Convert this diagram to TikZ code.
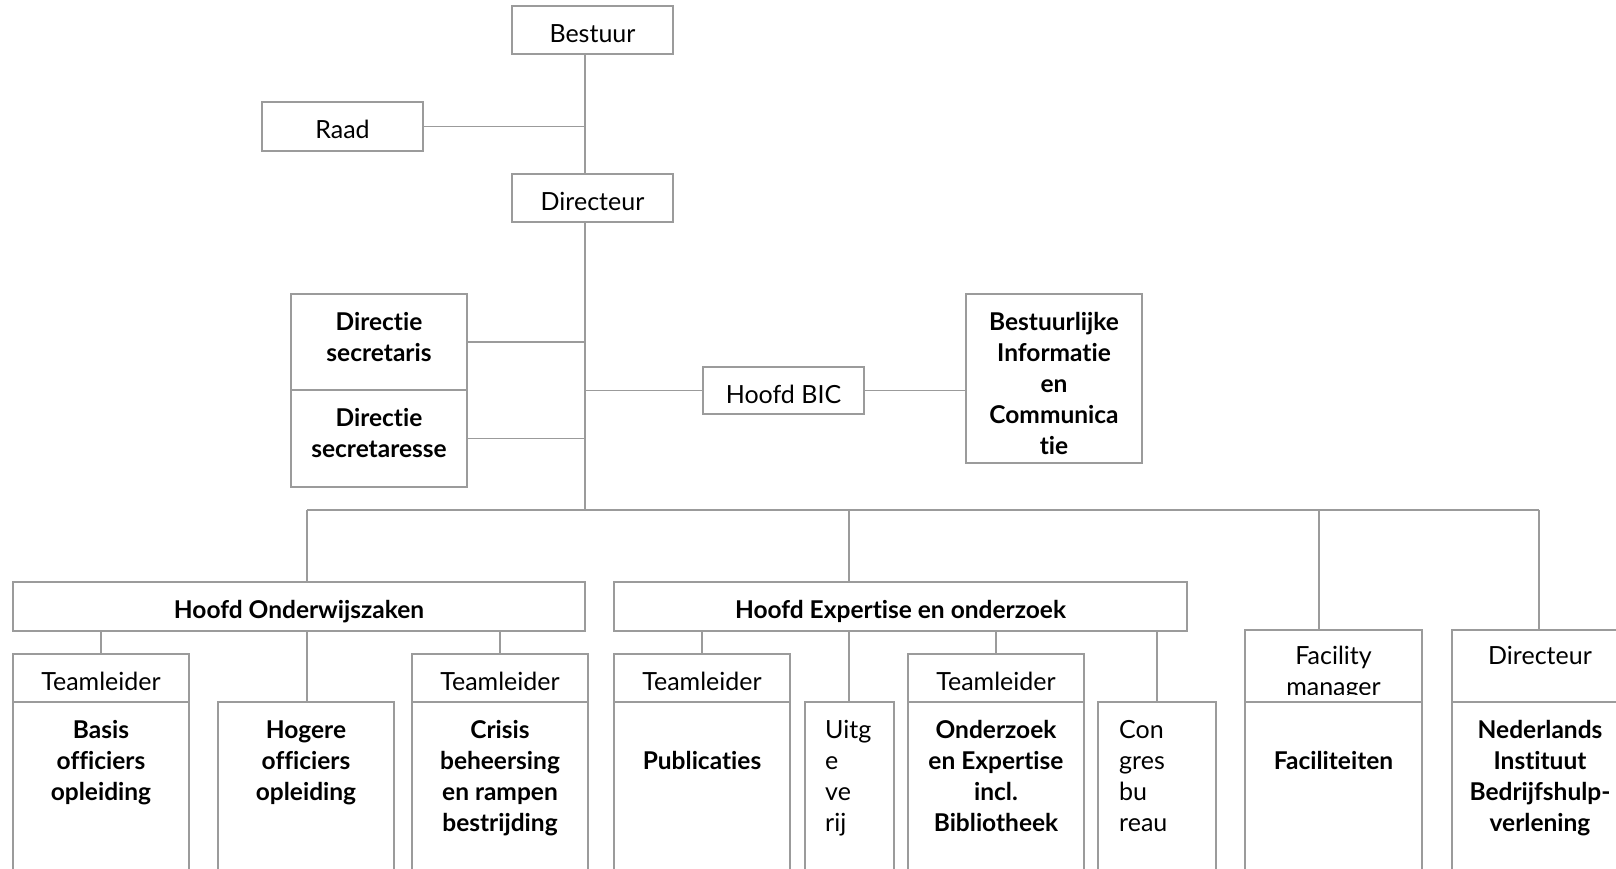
\documentclass[tikz,border=0pt]{standalone}
\usepackage{fontspec}
\setmainfont{Lato}[Ligatures={NoCommon,NoDiscretionary}]
\usetikzlibrary{fit}
\definecolor{linec}{RGB}{155,155,155}
\begin{document}
\begin{tikzpicture}[x=1pt,y=-1pt,
  box/.style={draw=linec, line width=1.4pt, fill=white, inner sep=0pt, outer sep=0pt},
  conn/.style={draw=linec, line width=1.4pt},
  reg/.style={font=\fontsize{25}{31}\selectfont, align=center, inner sep=0pt, anchor=north},
  bld/.style={font=\bfseries\fontsize{24.5}{31}\selectfont, align=center, inner sep=0pt, anchor=north},
  regl/.style={font=\fontsize{25}{31}\selectfont, align=left, inner sep=0pt, anchor=north west}
]
\useasboundingbox (0,0) rectangle (1616,869);
\clip (0,0) rectangle (1616,869);

% junction coordinates
\coordinate (sp) at (585,0);
\coordinate (jA) at (307,510);
\coordinate (jB) at (849,510);
\coordinate (jC) at (1319,510);
\coordinate (jD) at (1539,510);

% top boxes
\node[box, fit={(512,6) (673,54)}] (bestuur) {};
\node[box, fit={(262,102) (423,151)}] (raad) {};
\node[box, fit={(512,174) (673,222)}] (dir) {};
\node[box, fit={(291,294) (467,390)}] (ds1) {};
\node[box, fit={(291,390) (467,487)}] (ds2) {};
\node[box, fit={(703,367) (864,414)}] (bic) {};
\node[box, fit={(966,294) (1142,463)}] (bil) {};
\node[box, fit={(13,582) (585,631)}] (hoo) {};
\node[box, fit={(614,582) (1187,631)}] (hoe) {};

% header boxes
\node[box, fit={(13,654) (189,702)}] (tl1) {};
\node[box, fit={(412,654) (588,702)}] (tl3) {};
\node[box, fit={(614,654) (790,702)}] (tlp) {};
\node[box, fit={(908,654) (1084,702)}] (tlo) {};
\node[box, fit={(1245,630) (1422,702)}] (fach) {};
\node[box, fit={(1452,630) (1628,702)}] (dirh) {};

% connectors
\draw[conn] (bestuur.south -| sp) -- (dir.north -| sp);
\draw[conn] (raad.east) -- (raad.east -| sp);
\draw[conn] (dir.south -| sp) -- (jA -| sp);
\draw[conn] (ds1.east) -- (ds1.east -| sp);
\draw[conn] (ds2.east) -- (ds2.east -| sp);
\draw[conn] (bic.west -| sp) -- (bic.west);
\draw[conn] (bic.east) -- (bic.east -| bil.west);
\draw[conn] (jA) -- (jD);
\draw[conn] (jA) -- (hoo.north -| jA);
\draw[conn] (jB) -- (hoe.north -| jB);
\draw[conn] (jC) -- (fach.north -| jC);
\draw[conn] (jD) -- (dirh.north -| jD);

% texts
\node[reg] (bestuur-t) at ([yshift=-14.5pt]bestuur.north) {\strut Bestuur};
\node[reg] (raad-t) at ([yshift=-14.5pt]raad.north) {\strut Raad};
\node[reg] (dir-t) at ([yshift=-14.5pt]dir.north) {\strut Directeur};
\node[bld] (ds1-t) at ([yshift=-14.5pt]ds1.north) {\strut Directie\\secretaris};
\node[bld] (ds2-t) at ([yshift=-14.5pt]ds2.north) {\strut Directie\\secretaresse};
\node[reg] (bic-t) at ([yshift=-14.5pt]bic.north) {\strut Hoofd BIC};
\node[bld] (bil-t) at ([yshift=-14.5pt]bil.north) {\strut Bestuurlijke\\Informatie\\en\\Communica\\tie};
\node[bld] (hoo-t) at ([yshift=-14.5pt]hoo.north) {\strut Hoofd Onderwijszaken};
\node[bld] (hoe-t) at ([yshift=-14.5pt]hoe.north) {\strut Hoofd Expertise en onderzoek};
\node[reg] (tl1-t) at ([yshift=-14.5pt]tl1.north) {\strut Teamleider};
\node[reg] (tl3-t) at ([yshift=-14.5pt]tl3.north) {\strut Teamleider};
\node[reg] (tlp-t) at ([yshift=-14.5pt]tlp.north) {\strut Teamleider};
\node[reg] (tlo-t) at ([yshift=-14.5pt]tlo.north) {\strut Teamleider};
\begin{scope}
  \clip (1245,630) rectangle (1422,694);
  \node[reg] (fach-t) at ([yshift=-13pt]fach.north) {\strut Facility\\manager};
\end{scope}
\node[reg] (dirh-t) at ([yshift=-13pt]dirh.north) {\strut Directeur};

% body boxes
\node[box, fit={(13,702) (189,900)}] (basis) {};
\node[box, fit={(218,702) (394,900)}] (hog) {};
\node[box, fit={(412,702) (588,900)}] (cris) {};
\node[box, fit={(614,702) (790,900)}] (pub) {};
\node[box, fit={(805,702) (894,900)}] (uit) {};
\node[box, fit={(908,702) (1084,900)}] (ond) {};
\node[box, fit={(1098,702) (1216,900)}] (con) {};
\node[box, fit={(1245,702) (1422,900)}] (fac) {};
\node[box, fit={(1452,702) (1628,900)}] (nib) {};

\draw[conn] (hoo.south -| tl1.north) -- (tl1.north);
\draw[conn] (hoo.south -| jA) -- (hog.north -| jA);
\draw[conn] (hoo.south -| tl3.north) -- (tl3.north);
\draw[conn] (hoe.south -| tlp.north) -- (tlp.north);
\draw[conn] (hoe.south -| jB) -- (uit.north -| jB);
\draw[conn] (hoe.south -| tlo.north) -- (tlo.north);
\draw[conn] (hoe.south -| con.north) -- (con.north);

\node[bld] (basis-t) at ([yshift=-15pt]basis.north) {\strut Basis\\officiers\\opleiding};
\node[bld] (hog-t) at ([yshift=-15pt]hog.north) {\strut Hogere\\officiers\\opleiding};
\node[bld] (cris-t) at ([yshift=-15pt]cris.north) {\strut Crisis\\beheersing\\en rampen\\bestrijding};
\node[bld] (pub-t) at ([yshift=-15pt]pub.north) {\strut\\Publicaties};
\node[regl] (uit-t) at ([xshift=20pt,yshift=-15pt]uit.north west) {\strut Uitg\\e\\ve\\rij};
\node[bld] (ond-t) at ([yshift=-15pt]ond.north) {\strut Onderzoek\\en Expertise\\incl.\\Bibliotheek};
\node[regl] (con-t) at ([xshift=21pt,yshift=-15pt]con.north west) {\strut Con\\gres\\bu\\reau};
\node[bld] (fac-t) at ([yshift=-15pt]fac.north) {\strut\\Faciliteiten};
\node[bld] (nib-t) at ([yshift=-15pt]nib.north) {\strut Nederlands\\Instituut\\Bedrijfshulp-\\verlening};
\end{tikzpicture}
\end{document}
